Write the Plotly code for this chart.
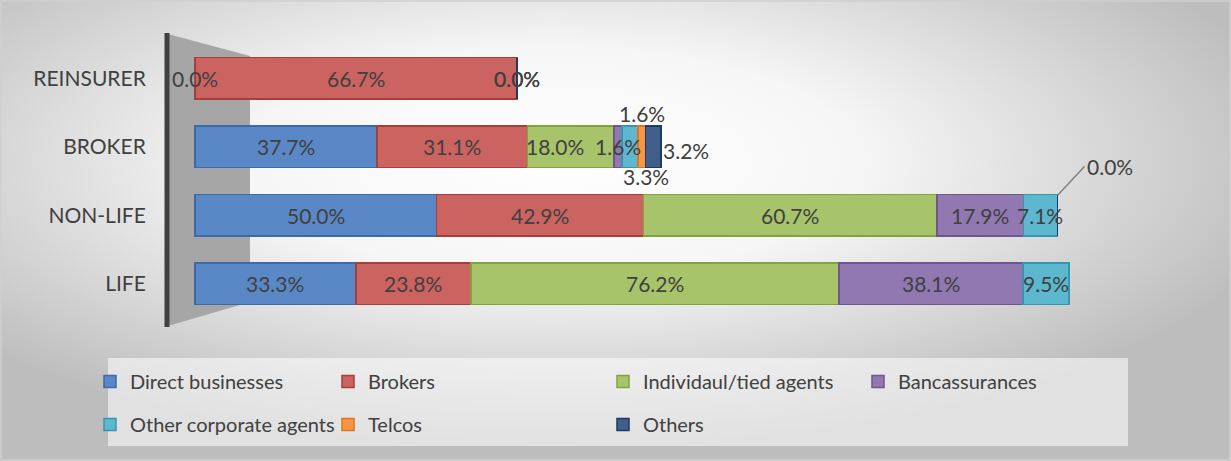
import base64
import plotly.graph_objects as go

# ---- data ----
categories = ["LIFE", "NON-LIFE", "BROKER", "REINSURER"]
series_names = ["Direct businesses", "Brokers", "Individaul/tied agents", "Bancassurances",
                "Other corporate agents", "Telcos", "Others"]
direct_businesses = [33.3, 50.0, 37.7, 0.0]
brokers = [23.8, 42.9, 31.1, 66.7]
individual_agents = [76.2, 60.7, 18.0, None]
bancassurances = [38.1, 17.9, 1.6, None]
other_corporate_agents = [9.5, 7.1, 3.3, None]
telcos = [None, None, 1.6, 0.0]
others = [None, 0.0, 3.2, 0.0]

series_values = [direct_businesses, brokers, individual_agents, bancassurances,
                 other_corporate_agents, telcos, others]

# ---- styles ----
fills = ["#5A87C5", "#CB6361", "#A7C46A", "#9178B0", "#5CB7CF", "#F79646", "#3F5E8A"]
edges = ["#3D6AA8", "#A63E3C", "#84A33F", "#6E568F", "#3796AF", "#E0741F", "#1F3B63"]
FONT = "Lato"
TXT = "#404040"
W, H = 1231, 461
ML, MR, MT, MB = 165, 51, 44, 143
PW, PH = W - ML - MR, H - MT - MB
PX_PER_UNIT = 4.83
x0_units = -(195 - ML) / PX_PER_UNIT
x1_units = x0_units + PW / PX_PER_UNIT

def px_to_paper_x(px):
    return (px - ML) / PW

def px_to_paper_y(py):
    return (H - MB - py) / PH

# legend columns (series index -> legend id), like the reference's 4-column layout
legend_of = ["legend", "legend2", "legend3", "legend4", "legend", "legend2", "legend3"]
legend_left_px = {"legend": 90, "legend2": 328, "legend3": 603, "legend4": 858}

fig = go.Figure()
for i, (name, vals) in enumerate(zip(series_names, series_values)):
    fig.add_trace(go.Bar(
        y=categories, x=vals, name=name, orientation="h",
        marker=dict(color=fills[i], line=dict(color=edges[i], width=1.5)),
        textposition="none", hoverinfo="x+name",
        legend=legend_of[i], legendgroup=name,
    ))

# ---- data labels (computed from cumulative sums) ----
special = {
    ("BROKER", 2): dict(xshift=-16),
    ("BROKER", 4): dict(xshift=16, yshift=-30),
    ("BROKER", 5): dict(yshift=33),
    ("BROKER", 6): dict(at_end=True, xanchor="left", xshift=0, yshift=-4),
}
annotations = []
for ci, cat in enumerate(categories):
    cum = 0.0
    for si, vals in enumerate(series_values):
        v = vals[ci]
        if v is None:
            continue
        start, end = cum, cum + v
        cum = end
        if cat == "NON-LIFE" and si == 6:
            annotations.append(dict(
                x=end, y=cat, xref="x", yref="y", text=f"{v:.1f}%",
                showarrow=True, arrowhead=0, arrowwidth=1.5, arrowcolor="#808080",
                ax=27, ay=-29, xanchor="left", yshift=20,
                font=dict(family=FONT, size=21, color=TXT)))
            continue
        opts = special.get((cat, si), {})
        xpos = end if opts.get("at_end") else (start + end) / 2
        annotations.append(dict(
            x=xpos, y=cat, xref="x", yref="y", text=f"{v:.1f}%", showarrow=False,
            xanchor=opts.get("xanchor", "center"), yanchor="middle",
            xshift=opts.get("xshift", 0), yshift=opts.get("yshift", 0),
            font=dict(family=FONT, size=21, color=TXT)))

# ---- background (gradient, border, legend box) as an SVG image ----
svg = f'''<svg xmlns="http://www.w3.org/2000/svg" width="{W}" height="{H}" viewBox="0 0 {W} {H}">
<defs><radialGradient id="g" cx="0.45" cy="0.35" r="0.62">
<stop offset="0" stop-color="#ffffff"/><stop offset="0.4" stop-color="#f6f6f6"/>
<stop offset="1" stop-color="#bdbdbd"/></radialGradient></defs>
<rect x="0" y="0" width="{W}" height="{H}" fill="url(#g)"/>
<rect x="1" y="1" width="{W-2}" height="{H-2}" fill="none" stroke="#d0d0d0" stroke-width="1.5"/>
<rect x="108" y="358" width="1020" height="88" fill="#ffffff" fill-opacity="0.55"/>
</svg>'''
src = "data:image/svg+xml;base64," + base64.b64encode(svg.encode()).decode()

shapes = [
    dict(type="path", xref="paper", yref="paper", layer="below",
         path=(f"M{px_to_paper_x(168)},{px_to_paper_y(34)} L{px_to_paper_x(250)},{px_to_paper_y(56)} "
               f"L{px_to_paper_x(250)},{px_to_paper_y(302)} L{px_to_paper_x(168)},{px_to_paper_y(326)} Z"),
         fillcolor="#a6a6a6", line=dict(width=0)),
    dict(type="line", xref="paper", yref="paper", layer="below",
         x0=px_to_paper_x(167), x1=px_to_paper_x(167), y0=px_to_paper_y(33), y1=px_to_paper_y(327),
         line=dict(color="#404040", width=5)),
]

legend_common = dict(orientation="v", bgcolor="rgba(0,0,0,0)", borderwidth=0,
                     font=dict(family=FONT, size=20, color=TXT),
                     xanchor="left", yanchor="top", traceorder="grouped", tracegroupgap=14)
legends = {lid: dict(x=px_to_paper_x(px), y=px_to_paper_y(362), **legend_common)
           for lid, px in legend_left_px.items()}

fig.update_layout(
    width=W, height=H,
    margin=dict(l=ML, r=MR, t=MT, b=MB, autoexpand=False),
    paper_bgcolor="#ffffff", plot_bgcolor="rgba(0,0,0,0)",
    barmode="stack", bargap=0.4,
    showlegend=True,
    xaxis=dict(range=[x0_units, x1_units], showgrid=False, zeroline=False,
               showticklabels=False, showline=False, fixedrange=True, automargin=False),
    yaxis=dict(categoryorder="array", categoryarray=categories, showgrid=False,
               zeroline=False, showline=False, ticks="outside", ticklen=14, automargin=False,
               tickcolor="rgba(0,0,0,0)", tickfont=dict(family=FONT, size=21, color=TXT)),
    annotations=annotations,
    shapes=shapes,
    images=[dict(source=src, xref="paper", yref="paper", x=px_to_paper_x(0), y=px_to_paper_y(0),
                 sizex=W / PW, sizey=H / PH, xanchor="left", yanchor="top",
                 sizing="stretch", layer="below")],
    **legends,
)

fig.write_html("out.html", config={"displayModeBar": False},
               post_script="document.body.style.margin='0px';")
